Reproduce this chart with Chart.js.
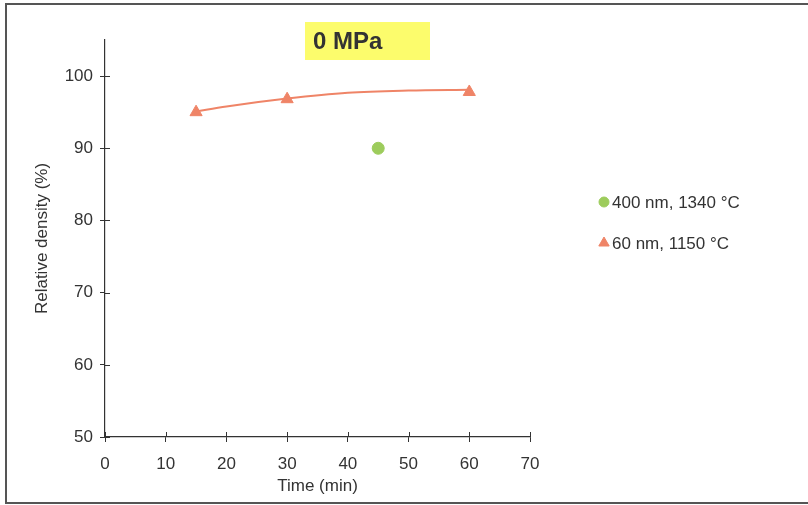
<!DOCTYPE html>
<html>
<head>
<meta charset="utf-8">
<script src="https://cdn.jsdelivr.net/npm/chart.js@4/dist/chart.umd.min.js"></script>
<style>
  body { margin: 0; background: #fff; }
  #wrap { position: relative; width: 808px; height: 505px; }
</style>
</head>
<body>
<div id="wrap"><canvas id="chart" width="808" height="505"></canvas></div>
<script>
// values
const xTicks = [0, 10, 20, 30, 40, 50, 60, 70];
const yTicks = [50, 60, 70, 80, 90, 100];

const coarseTime = [45];
const coarseDensity = [90];

const fineTime = [15, 30, 60];
const fineDensity = [95.0, 96.8, 97.8];

// trendline
const trendTime = [15, 20, 30, 40, 50, 60];
const trendDensity = [95.1, 95.8, 96.9, 97.7, 98.0, 98.1];

const titleText = '0 MPa';

const toPoints = (xs, ys) => xs.map((x, i) => ({x: x, y: ys[i]}));

const green = '#9dcc5c';
const salmon = '#ef8467';
const ink = '#333333';
const font = 'Liberation Sans, Arial, sans-serif';

/* frame, inner tick halves, title box and legend */
const decor = {
  id: 'decor',
  afterDraw(chart) {
    const ctx = chart.ctx;
    const area = chart.chartArea;
    ctx.save();

    ctx.strokeStyle = '#555';
    ctx.lineWidth = 2;
    ctx.beginPath();
    ctx.moveTo(808, 4);
    ctx.lineTo(6, 4);
    ctx.lineTo(6, 503);
    ctx.lineTo(808, 503);
    ctx.stroke();

    // ticks cross the axis, so draw the inside halves too
    ctx.strokeStyle = ink;
    ctx.lineWidth = 1;
    ctx.beginPath();
    chart.scales.x.ticks.forEach(t => {
      const px = Math.round(chart.scales.x.getPixelForValue(t.value)) + 0.5;
      ctx.moveTo(px, area.bottom);
      ctx.lineTo(px, area.bottom - 5);
    });
    chart.scales.y.ticks.forEach(t => {
      const py = Math.round(chart.scales.y.getPixelForValue(t.value)) + 0.5;
      ctx.moveTo(area.left, py);
      ctx.lineTo(area.left + 5, py);
    });
    ctx.stroke();

    ctx.fillStyle = '#fcfc6c';
    ctx.fillRect(305, 22, 125, 38);
    ctx.fillStyle = ink;
    ctx.font = 'bold 24px ' + font;
    ctx.textAlign = 'left';
    ctx.textBaseline = 'middle';
    ctx.fillText(titleText, 313, 42);

    ctx.font = '17px ' + font;
    const rows = [[0, 202], [1, 243]];
    rows.forEach(([i, y]) => {
      const ds = chart.data.datasets[i];
      ctx.fillStyle = ds.backgroundColor;
      ctx.strokeStyle = ds.borderColor;
      Chart.helpers.drawPoint(ctx, {
        pointStyle: ds.pointStyle,
        radius: i === 0 ? 5 : 6,
        rotation: 0,
        borderWidth: 1
      }, 604, y);
      ctx.fillStyle = ink;
      ctx.fillText(ds.label, 612, y + 1);
    });
    ctx.restore();
  }
};

new Chart(document.getElementById('chart'), {
  type: 'scatter',
  data: {
    datasets: [{
      label: '400 nm, 1340 °C',
      data: toPoints(coarseTime, coarseDensity),
      pointStyle: 'circle',
      pointRadius: 6,
      backgroundColor: green,
      borderColor: green
    }, {
      label: '60 nm, 1150 °C',
      data: toPoints(fineTime, fineDensity),
      pointStyle: 'triangle',
      pointRadius: 7,
      backgroundColor: salmon,
      borderColor: salmon
    }, {
      label: 'trend',
      data: toPoints(trendTime, trendDensity),
      showLine: true,
      pointRadius: 0,
      borderColor: salmon,
      borderWidth: 2,
      tension: 0.4,
      cubicInterpolationMode: 'monotone'
    }]
  },
  options: {
    responsive: false,
    animation: false,
    layout: { padding: { left: 0, top: 40, right: 278, bottom: 8 } },
    plugins: {
      legend: { display: false },
      tooltip: { enabled: false }
    },
    scales: {
      x: {
        type: 'linear',
        min: 0,
        max: 70,
        afterBuildTicks: s => { s.ticks = xTicks.map(v => ({value: v})) },
        afterFit: s => { s.height = 60 },
        grid: { drawOnChartArea: false, tickLength: 5, color: ink },
        border: { color: ink, width: 1.2 },
        ticks: { color: ink, font: { family: font, size: 17 }, padding: 12, maxRotation: 0 },
        title: { display: true, text: 'Time (min)', color: ink, font: { family: font, size: 17 }, padding: 0 }
      },
      y: {
        type: 'linear',
        min: 50,
        max: 105,
        afterBuildTicks: s => { s.ticks = yTicks.map(v => ({value: v})) },
        afterFit: s => { s.width = 105 },
        grid: { drawOnChartArea: false, tickLength: 5, color: ink },
        border: { color: ink, width: 1.2 },
        ticks: { color: ink, font: { family: font, size: 17 }, padding: 7 },
        title: { display: true, text: 'Relative density (%)', color: ink, font: { family: font, size: 17 }, padding: { top: 32 } }
      }
    }
  },
  plugins: [decor]
});
</script>
</body>
</html>
